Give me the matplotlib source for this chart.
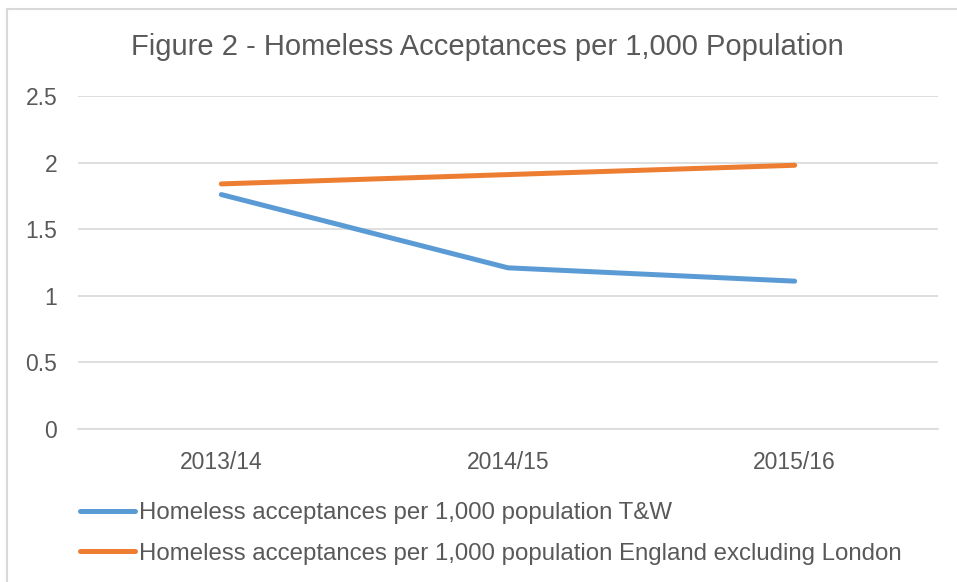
import matplotlib
matplotlib.use("Agg")
import matplotlib.pyplot as plt
from matplotlib.lines import Line2D

years = ["2013/14", "2014/15", "2015/16"]
tw = [1.76, 1.21, 1.11]
england_ex_london = [1.84, 1.91, 1.98]
labels = ["Homeless acceptances per 1,000 population T&W",
          "Homeless acceptances per 1,000 population England excluding London"]

TXT = "#595959"
GRID = "#D9D9D9"
plt.rcParams["font.family"] = ["Liberation Sans", "DejaVu Sans"]

W, H = 957, 582
fig = plt.figure(figsize=(W / 100, H / 100), dpi=100)
ax = fig.add_axes([78 / W, 1 - 429 / H, (938 - 78) / W, (429 - 96) / H])

x = range(len(years))
l1, = ax.plot(x, tw, color="#5B9BD5", lw=3.6, solid_capstyle="round")
l2, = ax.plot(x, england_ex_london, color="#ED7D31", lw=3.6, solid_capstyle="round")

ax.set_xlim(-0.5, 2.5)
ax.set_ylim(0, 2.5)
ax.set_yticks([0, 0.5, 1, 1.5, 2, 2.5])
ax.set_yticklabels(["0", "0.5", "1", "1.5", "2", "2.5"])
ax.set_xticks(list(x))
ax.set_xticklabels(years)
ax.grid(axis="y", color=GRID, lw=1.2)
ax.set_axisbelow(True)
for s in ["top", "right", "left"]:
    ax.spines[s].set_visible(False)
ax.spines["bottom"].set_color(GRID)
ax.spines["bottom"].set_linewidth(1.2)
ax.tick_params(length=0, labelsize=16.5, colors=TXT)
ax.tick_params(axis="y", pad=15)
ax.tick_params(axis="x", pad=16)

fig.text(487 / W, 1 - 47 / H, "Figure 2 - Homeless Acceptances per 1,000 Population",
         ha="center", va="center", fontsize=21, color=TXT)

fig.legend([l1, l2], labels, loc="upper left", bbox_to_anchor=(80 / W, 1 - 502 / H),
           frameon=False, fontsize=17.3, handlelength=2.28, handletextpad=0.17,
           labelspacing=0.78, borderpad=0, borderaxespad=0, labelcolor=TXT)

# chart-area border (top and left visible)
fig.add_artist(Line2D([7 / W, 1], [1 - 9 / H, 1 - 9 / H], color=GRID, lw=1.5,
                      transform=fig.transFigure))
fig.add_artist(Line2D([7 / W, 7 / W], [0, 1 - 9 / H], color=GRID, lw=1.5,
                      transform=fig.transFigure))

fig.savefig("out.png", dpi=100)
